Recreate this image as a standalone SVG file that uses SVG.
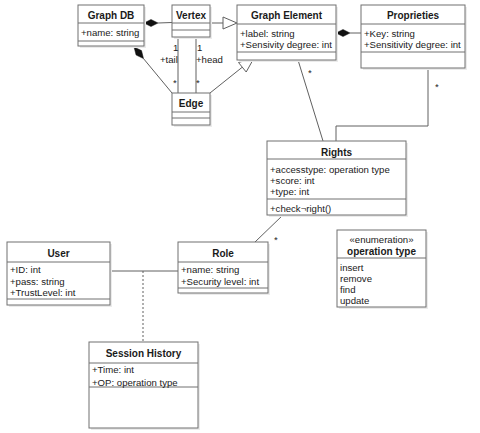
<svg xmlns="http://www.w3.org/2000/svg" width="480" height="433" viewBox="0 0 480 433">
<style>
text{font-family:"Liberation Sans",Arial,sans-serif;font-size:9.6px;fill:#1a1a1a}
.t{font-weight:bold;text-anchor:middle;font-size:10px}
.c{text-anchor:middle}
.box{fill:#fff;stroke:#707070;stroke-width:1}
.sh{fill:#ebebeb}
.sep{stroke:#707070;stroke-width:1}
.ln{stroke:#606060;stroke-width:1;fill:none}
.dia{fill:#111;stroke:#111;stroke-width:0.5}
.tri{fill:#fff;stroke:#606060;stroke-width:1}
</style>
<rect width="480" height="433" fill="#fff"/>
<g id="connectors">
<line class="ln" x1="158" y1="23" x2="172" y2="22.5"/>
<polygon class="dia" points="144,23 151,19.5 158,23 151,26.5"/>
<line class="ln" x1="143.5" y1="58.6" x2="172" y2="93"/>
<polygon class="dia" points="134,47 136.1,55 143.5,58.6 141.5,50.6"/>
<line class="ln" x1="178" y1="37" x2="178" y2="93"/>
<line class="ln" x1="196" y1="37" x2="196" y2="93"/>
<text x="173" y="51">1</text>
<text x="160" y="63">+tail</text>
<text x="173" y="86">*</text>
<text x="197" y="51">1</text>
<text x="196" y="63">+head</text>
<text x="196" y="86">*</text>
<line class="ln" x1="210" y1="23" x2="223" y2="23"/>
<polygon class="tri" points="237,23 223,17 223,29"/>
<line class="ln" x1="210" y1="93" x2="242.5" y2="67"/>
<polygon class="tri" points="254,58 238.5,62.5 246.2,72"/>
<line class="ln" x1="350" y1="33" x2="361" y2="33"/>
<polygon class="dia" points="336,33 343,29.5 350,33 343,36.5"/>
<line class="ln" x1="298" y1="60" x2="323" y2="141"/>
<text x="308" y="76">*</text>
<polyline class="ln" points="428,68 428,126 336,126 336,141"/>
<text x="435" y="90">*</text>
<line class="ln" x1="283" y1="215" x2="255" y2="242"/>
<text x="274" y="243">*</text>
<line class="ln" x1="110" y1="271" x2="178" y2="271"/>
<line class="ln" x1="143" y1="271" x2="143" y2="342" stroke-dasharray="2,2"/>
</g>
<g id="graphdb">
<rect class="sh" x="80" y="7" width="66" height="41"/>
<rect class="box" x="78" y="5" width="66" height="41"/>
<line class="sep" x1="78" y1="23" x2="144" y2="23"/>
<line class="sep" x1="78" y1="41" x2="144" y2="41"/>
<text class="t" x="111" y="19">Graph DB</text>
<text x="81" y="36">+name: string</text>
</g>
<g id="vertex">
<rect class="sh" x="174" y="7" width="38" height="32"/>
<rect class="box" x="172" y="5" width="38" height="32"/>
<line class="sep" x1="172" y1="23" x2="210" y2="23"/>
<line class="sep" x1="172" y1="30" x2="210" y2="30"/>
<text class="t" x="191" y="19">Vertex</text>
</g>
<g id="edge">
<rect class="sh" x="174" y="95" width="38" height="32"/>
<rect class="box" x="172" y="93" width="38" height="32"/>
<line class="sep" x1="172" y1="112" x2="210" y2="112"/>
<line class="sep" x1="172" y1="118" x2="210" y2="118"/>
<text class="t" x="191" y="107">Edge</text>
</g>
<g id="graphelement">
<rect class="sh" x="239" y="7" width="99" height="55"/>
<rect class="box" x="237" y="5" width="99" height="55"/>
<line class="sep" x1="237" y1="24" x2="336" y2="24"/>
<line class="sep" x1="237" y1="52" x2="336" y2="52"/>
<text class="t" x="286.5" y="19">Graph Element</text>
<text x="240" y="37">+label: string</text>
<text x="240" y="48">+Sensivity degree: int</text>
</g>
<g id="proprieties">
<rect class="sh" x="363" y="7" width="104" height="63"/>
<rect class="box" x="361" y="5" width="104" height="63"/>
<line class="sep" x1="361" y1="24" x2="465" y2="24"/>
<line class="sep" x1="361" y1="52" x2="465" y2="52"/>
<text class="t" x="413" y="19">Proprieties</text>
<text x="364" y="37">+Key: string</text>
<text x="364" y="48">+Sensitivity degree: int</text>
</g>
<g id="rights">
<rect class="sh" x="269" y="143" width="139" height="74"/>
<rect class="box" x="267" y="141" width="139" height="74"/>
<line class="sep" x1="267" y1="159" x2="406" y2="159"/>
<line class="sep" x1="267" y1="199" x2="406" y2="199"/>
<text class="t" x="336.5" y="156">Rights</text>
<text x="270" y="173">+accesstype: operation type</text>
<text x="270" y="184">+score: int</text>
<text x="270" y="195">+type: int</text>
<text x="270" y="212">+check¬right()</text>
</g>
<g id="user">
<rect class="sh" x="9" y="244" width="103" height="63"/>
<rect class="box" x="7" y="242" width="103" height="63"/>
<line class="sep" x1="7" y1="262" x2="110" y2="262"/>
<line class="sep" x1="7" y1="299" x2="110" y2="299"/>
<text class="t" x="58.5" y="257">User</text>
<text x="10" y="273">+ID: int</text>
<text x="10" y="285">+pass: string</text>
<text x="10" y="296">+TrustLevel: int</text>
</g>
<g id="role">
<rect class="sh" x="180" y="244" width="90" height="51"/>
<rect class="box" x="178" y="242" width="90" height="51"/>
<line class="sep" x1="178" y1="262" x2="268" y2="262"/>
<line class="sep" x1="178" y1="288" x2="268" y2="288"/>
<text class="t" x="223" y="257">Role</text>
<text x="181" y="273">+name: string</text>
<text x="181" y="285">+Security level: int</text>
</g>
<g id="sessionhistory">
<rect class="sh" x="91" y="344" width="109" height="86"/>
<rect class="box" x="89" y="342" width="109" height="86"/>
<line class="sep" x1="89" y1="363" x2="198" y2="363"/>
<line class="sep" x1="89" y1="387" x2="198" y2="387"/>
<text class="t" x="143.5" y="357">Session History</text>
<text x="92" y="373">+Time: int</text>
<text x="92" y="386">+OP: operation type</text>
</g>
<g id="operationtype">
<rect class="sh" x="339" y="232" width="89" height="77"/>
<rect class="box" x="337" y="230" width="89" height="77"/>
<line class="sep" x1="337" y1="258" x2="426" y2="258"/>
<text class="c" x="381.5" y="243">«enumeration»</text>
<text class="t" x="381.5" y="255">operation type</text>
<text x="340" y="271">insert</text>
<text x="340" y="282">remove</text>
<text x="340" y="293">find</text>
<text x="340" y="304">update</text>
</g>
</svg>
